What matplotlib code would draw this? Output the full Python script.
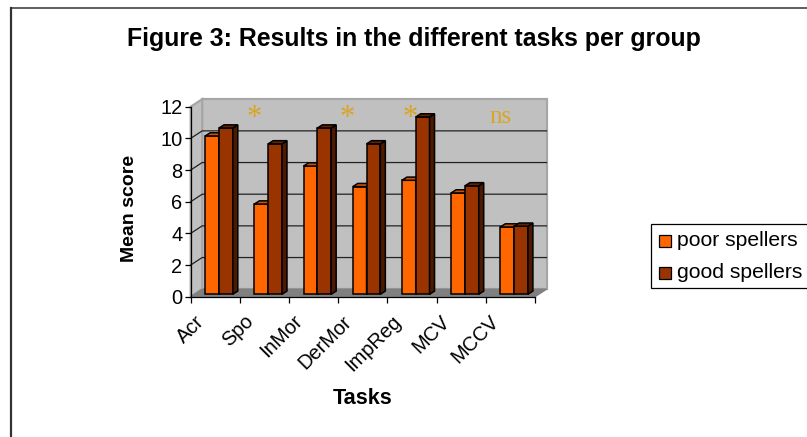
import numpy as np
import matplotlib
matplotlib.use("Agg")
import matplotlib.pyplot as plt
from matplotlib.lines import Line2D
from matplotlib.patches import Polygon, Rectangle

plt.rcParams["font.family"] = ["Liberation Sans", "DejaVu Sans"]

# data
tasks = ["Acr", "Spo", "InMor", "DerMor", "ImpReg", "MCV", "MCCV"]
poor_spellers = [10.0, 5.7, 8.1, 6.8, 7.2, 6.4, 4.25]
good_spellers = [10.5, 9.5, 10.5, 9.5, 11.2, 6.85, 4.3]
y_ticks = [0, 2, 4, 6, 8, 10, 12]
mark_text = ["*", "*", "*", "ns"]
mark_x = [1.29, 3.18, 4.46, 6.29]

W, H = 807, 437
fig = plt.figure(figsize=(W / 100, H / 100), dpi=100)

# axes = front plane of the fake 3d box
left, right, top, bottom = 190.7, 535.0, 106.7, 296.7
ax = fig.add_axes([left / W, 1 - bottom / H, (right - left) / W, (bottom - top) / H])
ax.set_xlim(0, 7)
ax.set_ylim(0, 12)
ax.patch.set_visible(False)

px_x = 7 / (right - left)
px_y = 12 / (bottom - top)
dx, dy = 11.5 * px_x, 7.5 * px_y      # depth of the box
bx, by = 3.7 * px_x, 2.4 * px_y       # where bars stand on the floor
ddx, ddy = 5.0 * px_x, 3.2 * px_y     # depth of a bar
bw = 13.8 * px_x

wall = "#c0c0c0"
wall_edge = "#a6a6a6"
ax.add_patch(Rectangle((dx, dy), 7, 12, fc=wall, ec=wall_edge, lw=1.6, clip_on=False, zorder=1))
ax.add_patch(Polygon([(0, 0), (dx, dy), (dx, 12 + dy), (0, 12)], fc=wall, ec=wall_edge, lw=1.6,
                     clip_on=False, zorder=1))
ax.add_patch(Polygon([(0, 0), (7, 0), (7 + dx, dy), (dx, dy)], fc="#808080", ec="#808080", lw=1,
                     clip_on=False, zorder=1.5))

# grid lines on back wall and left wall
for t in y_ticks[1:-1]:
    ax.plot([0, dx, 7 + dx], [t, t + dy, t + dy], color="#222222", lw=0.9, clip_on=False, zorder=1.2)


def draw_bars(xs, vals, front, side, roof):
    ax.bar(xs, vals, bw, bottom=by, align="edge", color=front, edgecolor="black", lw=1.1,
           clip_on=False, zorder=3)
    for x, v in zip(xs, vals):
        x2 = x + bw
        y2 = v + by
        ax.add_patch(Polygon([(x2, by), (x2 + ddx, by + ddy), (x2 + ddx, y2 + ddy), (x2, y2)],
                             fc=side, ec="black", lw=1.1, clip_on=False, zorder=3))
        ax.add_patch(Polygon([(x, y2), (x + ddx, y2 + ddy), (x2 + ddx, y2 + ddy), (x2, y2)],
                             fc=roof, ec="black", lw=1.1, clip_on=False, zorder=3))


pos = np.arange(len(tasks)) + 0.5
draw_bars(pos - bw + bx, poor_spellers, "#ff6600", "#662200", "#cc5200")
draw_bars(pos + bx, good_spellers, "#993300", "#4d1a00", "#662200")

# axes lines
for s in ["top", "right"]:
    ax.spines[s].set_visible(False)
for s in ["left", "bottom"]:
    ax.spines[s].set_color("black")
    ax.spines[s].set_linewidth(0.9)
    ax.spines[s].set_zorder(2)

ax.set_yticks(y_ticks)
ax.tick_params(axis="y", length=4, width=0.9, pad=2, labelsize=14.4)
ax.set_xticks(np.arange(8))
ax.set_xticklabels([])
ax.tick_params(axis="x", length=4, width=0.9)

# slanted task names sit left of their category
for p, name in zip(pos, tasks):
    ax.annotate(name, (p, 0), xytext=(-21, -15), textcoords="offset pixels", rotation=45,
                ha="right", va="top", rotation_mode="anchor", fontsize=14.4, annotation_clip=False)

# significance marks
for x, s in zip(mark_x, mark_text):
    if s == "*":
        ax.text(x, 11.23, s, family="Liberation Serif", color="#daa520", fontsize=22,
                ha="center", va="center", zorder=4)
    else:
        ax.text(x, 11.35, s, family="Liberation Serif", color="#daa520", fontsize=18,
                ha="center", va="center", zorder=4)

fig.text(414 / W, 1 - 39 / H, "Figure 3: Results in the different tasks per group",
         fontsize=17.9, weight="bold", ha="center", va="center")
fig.text(130 / W, 1 - 208 / H, "Mean score", fontsize=14, weight="bold", rotation=90,
         ha="center", va="center")
fig.text(363 / W, 1 - 398 / H, "Tasks", fontsize=15.6, weight="bold", ha="center", va="center")

# legend
fig.add_artist(Rectangle((650.5 / W, 1 - 287.5 / H), 170 / W, 63.5 / H, transform=fig.transFigure,
                         fc="white", ec="black", lw=0.9))
for yy, col, lab in [(241, "#ff6600", "poor spellers"), (272.5, "#993300", "good spellers")]:
    fig.add_artist(Rectangle((658.5 / W, 1 - (yy + 6) / H), 12 / W, 12 / H, transform=fig.transFigure,
                             fc=col, ec="black", lw=0.9))
    fig.text(677 / W, 1 - yy / H, lab, fontsize=15.2, ha="left", va="center")

# frame around the picture
fig.add_artist(Line2D([11 / W, 11 / W], [0, 1 - 7.5 / H], color="#333333", lw=1.6))
fig.add_artist(Line2D([11 / W, 1], [1 - 7.5 / H, 1 - 7.5 / H], color="#333333", lw=1.1))

fig.savefig("out.png", dpi=100)
